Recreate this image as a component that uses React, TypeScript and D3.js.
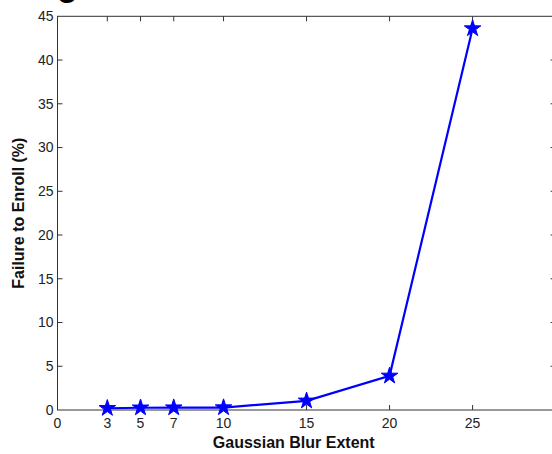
import * as d3 from 'd3';
import React from 'react';

const blurExtent = [3, 5, 7, 10, 15, 20, 25];
const failureRate = [0.2, 0.26, 0.27, 0.28, 1.05, 3.9, 43.6];
const xTicks = [0, 3, 5, 7, 10, 15, 20, 25];
const yTicks = [0, 5, 10, 15, 20, 25, 30, 35, 40, 45];

const W = 552;
const H = 454;
const margin = { left: 57.5, top: 16.3, right: -3.6, bottom: 44 };

const App: React.FC = () => {
    const x = d3
        .scaleLinear()
        .domain([0, 30])
        .range([margin.left, W - margin.right]);
    const y = d3
        .scaleLinear()
        .domain([0, 45])
        .range([H - margin.bottom, margin.top]);

    const line = d3
        .line<number>()
        .x((_, i) => x(blurExtent[i]))
        .y((d) => y(d));
    const star = d3.symbol().type(d3.symbolStar).size(85)();

    const x0 = x(0);
    const x1 = x(30);
    const y0 = y(0);
    const y1 = y(45);
    const font = '"Liberation Sans", Arial, sans-serif';

    return (
        <svg
            width={W}
            height={H}
            style={{ position: 'absolute', left: 0, top: 0, background: 'white' }}
            fontFamily={font}
        >
            <text x={57} y={-4} fontSize={34} fontWeight="bold" fill="black">
                g
            </text>
            <rect
                x={x0}
                y={y1}
                width={x1 - x0}
                height={y0 - y1}
                fill="white"
                stroke="#333"
                strokeWidth={1}
            />
            {xTicks
                .filter((t) => t > 0)
                .map((t) => (
                    <g key={'xt' + t}>
                        <line x1={x(t)} x2={x(t)} y1={y0} y2={y0 - 5} stroke="#333" />
                        <line x1={x(t)} x2={x(t)} y1={y1} y2={y1 + 5} stroke="#333" />
                    </g>
                ))}
            {xTicks.map((t) => (
                <text
                    key={'xl' + t}
                    x={x(t)}
                    y={y0 + 18}
                    fontSize={14}
                    textAnchor="middle"
                    fill="#222"
                >
                    {t}
                </text>
            ))}
            {yTicks.map((t) => (
                <g key={'y' + t}>
                    {t > 0 && t < 45 && (
                        <>
                            <line x1={x0} x2={x0 + 5} y1={y(t)} y2={y(t)} stroke="#333" />
                            <line x1={x1} x2={x1 - 5} y1={y(t)} y2={y(t)} stroke="#333" />
                        </>
                    )}
                    <text
                        x={x0 - 4}
                        y={y(t)}
                        dy="0.35em"
                        fontSize={14}
                        textAnchor="end"
                        fill="#222"
                    >
                        {t}
                    </text>
                </g>
            ))}
            <path
                d={line(failureRate) ?? ''}
                fill="none"
                stroke="#0000ff"
                strokeWidth={2.2}
            />
            {failureRate.map((v, i) => (
                <path
                    key={'m' + i}
                    d={star ?? ''}
                    transform={`translate(${x(blurExtent[i])},${y(v)})`}
                    fill="#0000ff"
                    stroke="#0000ff"
                    strokeWidth={1}
                />
            ))}
            <text
                x={(x0 + 530) / 2}
                y={448}
                fontSize={16}
                fontWeight="bold"
                textAnchor="middle"
                fill="#111"
            >
                Gaussian Blur Extent
            </text>
            <text
                transform={`translate(24,${(y0 + y1) / 2}) rotate(-90)`}
                fontSize={16}
                fontWeight="bold"
                textAnchor="middle"
                fill="#111"
            >
                Failure to Enroll (%)
            </text>
        </svg>
    );
};

export default App;
